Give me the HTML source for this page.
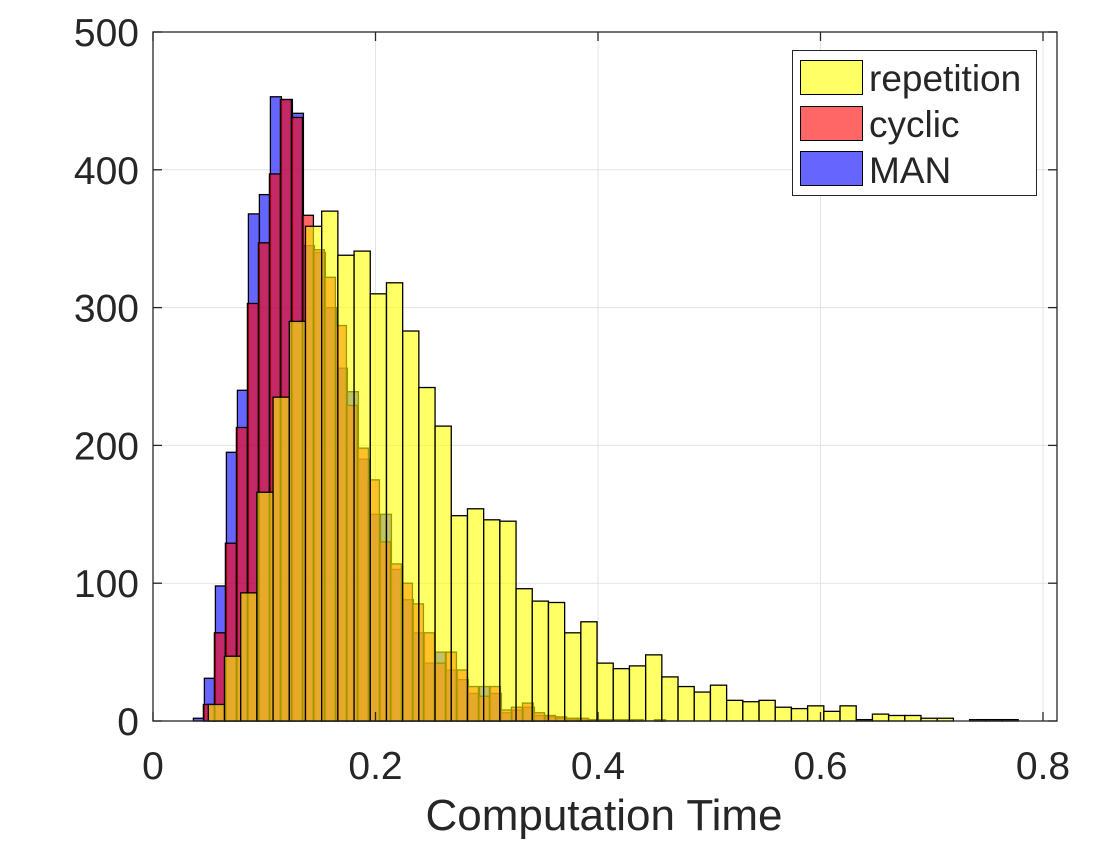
<!DOCTYPE html>
<html><head><meta charset="utf-8"><style>
body{margin:0;background:#fff;}
svg text{font-family:"Liberation Sans",sans-serif;fill:#262626;}
</style></head><body>
<svg id="chart" width="1120" height="840" xmlns="http://www.w3.org/2000/svg">
<g id="grid"></g>
<g id="bars"></g>
<g id="axes"></g>
<g id="legend">
<rect x="792.5" y="50.5" width="244" height="145" fill="#fff" stroke="#262626" stroke-width="1"/>
<rect x="800.5" y="60.5" width="62" height="34" fill="#ffff66" stroke="#000"/>
<text x="869" y="91" font-size="37" fill="#000">repetition</text>
<rect x="800.5" y="106.5" width="62" height="34" fill="#ff6666" stroke="#000"/>
<text x="869" y="137" font-size="37">cyclic</text>
<rect x="800.5" y="151.5" width="62" height="34" fill="#6666ff" stroke="#000"/>
<text x="869" y="183" font-size="37">MAN</text>
</g>
<text x="604" y="830" font-size="44" text-anchor="middle">Computation Time</text>
</svg>
<script>
const repStart = 0.0497, repWidth = 0.01456;
const repetition = [12,47,93,166,235,290,359,370,338,341,310,318,283,242,214,149,154,146,145,96,87,86,64,72,42,38,40,48,32,25,21,26,15,14,15,10,9,11,7,11,1,5,4,4,2,2,0,1,1,1];
const smallStart = 0.0363, smallWidth = 0.00989;
const cyclic = [0,12,64,129,213,303,347,397,451,438,367,342,322,287,229,198,175,130,114,100,85,64,42,50,37,25,18,25,8,10,13,6,4,3,2,2,1,1,1,0,1,0,1];
const man = [2,31,98,195,240,368,382,453,451,441,345,340,300,256,239,190,150,150,110,88,64,42,50,37,30,20,25,20,6,8,10,4,3,2,1,1,1,1,0,1,0,0,0];
const xTicks = [0,0.2,0.4,0.6,0.8];
const xTickLabels = ["0","0.2","0.4","0.6","0.8"];
const yTicks = [0,100,200,300,400,500];
const yTickLabels = ["0","100","200","300","400","500"];

const L=153,R=1057,T=32,B=721;
const xs = v => L + v*1112.5;
const ys = v => B - v*(B-T)/500;
const NS="http://www.w3.org/2000/svg";
function mk(tag, attrs, parent){const e=document.createElementNS(NS,tag);for(const k in attrs)e.setAttribute(k,attrs[k]);parent.appendChild(e);return e;}
const grid=document.getElementById('grid'), bars=document.getElementById('bars'), axes=document.getElementById('axes');
mk('rect',{x:L,y:T,width:R-L,height:B-T,fill:'#fff'},grid);
xTicks.forEach((t,i)=>{ if(i>0){const l=mk('line',{x1:xs(t),x2:xs(t),y1:T,y2:B,stroke:'#e3e3e3','stroke-width':1},grid);

}});
yTicks.forEach((t,i)=>{ if(i>0){const l=mk('line',{x1:L,x2:R,y1:ys(t),y2:ys(t),stroke:'#e3e3e3','stroke-width':1},grid);

}});
function series(vals,start,w,fill,name){
  vals.forEach((v,i)=>{ if(v<=0) return;
    const x0=xs(start+i*w), x1=xs(start+(i+1)*w);
    const r=mk('rect',{x:x0,y:ys(v),width:x1-x0,height:B-ys(v),fill:fill,'fill-opacity':0.6,stroke:'#000','stroke-width':1.3},bars);
    
    
  });
}
series(man,smallStart,smallWidth,'#0000ff','man');
series(cyclic,smallStart-0.0009,smallWidth,'#ff0000','cyclic');
series(repetition,repStart,repWidth,'#ffff00','repetition');
const box=mk('rect',{x:L,y:T,width:R-L,height:B-T,fill:'none',stroke:'#262626','stroke-width':1.3},axes);


xTicks.forEach((t,i)=>{
  mk('line',{x1:xs(t),x2:xs(t),y1:B,y2:B-9,stroke:'#262626','stroke-width':1.3},axes);
  mk('line',{x1:xs(t),x2:xs(t),y1:T,y2:T+9,stroke:'#262626','stroke-width':1.3},axes);
  const tx=mk('text',{x:xs(t),y:779,'font-size':39,'text-anchor':'middle'},axes);
  tx.textContent=xTickLabels[i];
  
  
});
yTicks.forEach((t,i)=>{
  mk('line',{x1:L,x2:L+9,y1:ys(t),y2:ys(t),stroke:'#262626','stroke-width':1.3},axes);
  mk('line',{x1:R,x2:R-9,y1:ys(t),y2:ys(t),stroke:'#262626','stroke-width':1.3},axes);
  const tx=mk('text',{x:139,y:ys(t)+14,'font-size':39,'text-anchor':'end'},axes);
  tx.textContent=yTickLabels[i];
  
  
});
</script>
</body></html>
